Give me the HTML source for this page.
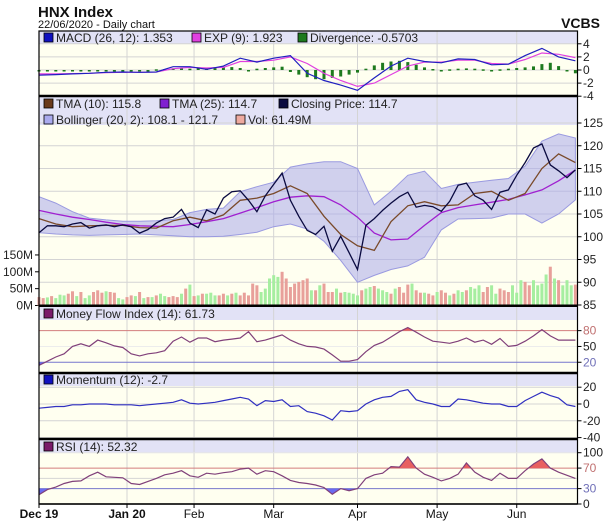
<!DOCTYPE html>
<html><head><meta charset="utf-8"><style>
html,body{margin:0;padding:0;background:#fff;}
svg{display:block;font-family:"Liberation Sans",Arial,sans-serif;}
</style></head><body>
<svg id="chart" width="607" height="527" viewBox="0 0 607 527" xmlns="http://www.w3.org/2000/svg">
<text x="38" y="17" font-size="15" font-weight="bold" fill="#111">HNX Index</text>
<text x="38" y="28" font-size="11" fill="#111">22/06/2020 - Daily chart</text>
<text x="600" y="28" font-size="14" font-weight="bold" fill="#111" text-anchor="end">VCBS</text>
<g id="g"></g>
</svg>
<script>
// ---- data (day index 0..128, sampled) ----
const closeStride = 2;
const closeVals = [100.9,102.4,102.4,102.2,102.8,103.1,101.9,102.4,102.6,102.2,102.6,102.2,100.8,101.6,103.0,104.0,104.3,106.0,103.0,102.0,105.9,105.0,108.5,109.9,110.1,108.0,105.5,109.0,111.5,114.0,108.0,104.5,101.4,100.5,102.3,96.8,100.1,96.5,92.8,102.5,104.0,105.8,107.4,108.8,109.8,106.5,106.9,106.6,105.6,107.8,111.3,111.8,109.0,108.0,106.0,109.8,110.3,113.5,116.3,119.5,120.4,115.8,114.5,113.0,114.7];
const smoothStride = 4;
const tma10Vals = [104.0,102.8,102.2,102.4,102.5,102.5,102.0,101.9,103.5,104.3,103.5,104.8,108.0,108.5,109.5,111.2,109.5,104.5,100.5,98.0,97.0,103.3,106.8,107.7,106.8,107.0,109.5,110.0,108.0,109.5,115.0,118.2,116.3];
const tma25Vals = [105.8,105.0,104.3,103.8,103.2,102.7,102.4,102.3,102.2,102.7,103.3,104.0,105.2,106.4,107.7,108.7,109.0,108.8,107.0,104.3,100.8,99.3,99.5,102.5,105.3,106.4,107.0,107.6,108.2,109.2,110.3,112.3,114.7];
const bollUpper = [108.8,107.4,105.5,104.1,103.7,103.4,103.4,103.5,103.8,105.3,106.0,106.3,109.9,111.0,112.0,115.3,116.0,116.5,116.5,115.0,107.0,110.0,113.5,114.4,110.6,111.5,112.0,112.4,112.8,115.5,121.0,122.6,121.7];
const bollLower = [100.9,100.6,100.4,100.3,100.4,100.5,100.6,100.4,100.2,100.0,100.0,100.1,100.5,101.0,102.2,102.8,101.7,99.0,94.8,90.0,91.5,92.8,93.6,95.5,101.5,103.9,104.0,104.1,105.0,105.0,103.0,105.0,108.1];
const volumeM = [25,22,24,28,22,32,30,35,42,28, 40,22,30,40,45,38,42,40,38,22, 18,25,30,28,40,22,25,25,30,35, 28,25,28,25,35,50,62,28,30,35, 35,38,30,30,35,30,35,38,30,38, 30,65,60,40,50,80,90,85,100,80, 55,65,70,75,80,45,45,60,65,40, 40,50,38,40,38,35,30,45,50,55, 58,50,45,40,35,50,55,38,62,65, 45,38,38,35,30,40,45,38,30,35, 45,40,45,55,50,60,40,55,60,35, 50,45,40,60,38,75,70,60,75,60, 65,92,115,80,75,60,75,60,62];
const volumeDir = "rrgrgggrrgrggrrrgrrggrrgrgrgrggrrrgrgrgrgggrrgrgrrrrrgggggrrrrrrrgrgrrrgrggggrggrgggrgrrrgrrgrrgrrgrggrgggrrggrrrgggrrggggrgrgggrr";
const macdVals = [-0.8,-0.7,-0.6,-0.5,-0.35,-0.3,-0.35,-0.3,0.5,0.5,0.1,0.6,1.8,1.2,1.8,2.2,-0.5,-1.6,-2.3,-3.1,-1.2,0.6,1.8,1.3,1.1,1.7,1.6,0.8,0.9,2.2,3.3,2.0,1.4];
const signalVals = [-0.6,-0.6,-0.55,-0.5,-0.4,-0.35,-0.35,-0.3,0.2,0.4,0.3,0.4,1.3,1.3,1.5,2.0,1.0,-0.5,-1.6,-2.5,-2.0,-0.7,0.6,1.2,1.2,1.5,1.5,1.0,0.9,1.6,2.6,2.4,1.9];
const divStride = 2;
const divVals = [-0.15,-0.12,-0.1,-0.1,-0.1,0,-0.1,-0.1,-0.1,-0.1, -0.1,-0.05,0,-0.1,0.1,0.15,0.25,0.3,0.2,0.3, 0.3,0.4,0.5,0.45,0.3,-0.1,0.2,0.3,0.4,0.5, -0.3,-0.7,-1.1,-1.4,-1.4,-1.2,-1.0,-0.7,-0.4,0.2, 0.7,1.1,1.3,1.4,1.2,0.8,0.4,0.15,0,0.1, 0.2,0.25,0.2,0.1,-0.1,0.1,0.2,0.3,0.4,0.55, 0.9,1.1,0.6,-0.2,-0.5];
const oscStride = 2;
const mfiVals = [14,22,30,36,50,55,50,62,57,51,48,36,32,36,38,42,60,68,58,66,66,59,62,64,66,78,59,62,67,72,62,55,50,49,45,34,22,22,25,40,52,58,68,78,86,77,68,60,58,56,60,66,58,62,54,65,50,52,60,70,82,70,62,62,62];
const momVals = [-5,-4,-3,-3,-1,-1,0,0,0,-1,-1,-1,-2,-1,0,1,2,5,1,0,1,2,4,6,8,6,-2,4,3,5,-3,-2,-9,-11,-14,-19,-8,-9,-8,0,5,8,9,15,17,5,2,0,-3,-3,6,5,3,1,0,0,-3,-3,4,9,14,10,7,-1,-3];
const rsiVals = [18,28,33,40,44,45,55,62,53,52,51,40,38,44,50,57,60,65,55,52,60,58,61,63,68,70,58,65,63,55,46,42,40,37,32,19,30,26,30,50,57,60,73,72,92,70,58,52,45,50,58,80,62,52,46,60,50,50,65,78,88,70,62,56,50];
const monthLabels = ["Dec 19","Jan 20","Feb","Mar","Apr","May","Jun"];
const monthDays = [0,21,37,56,76,95,114];
const priceTicks = [125,120,115,110,105,100,95,90,85];
const volTicks = [150,100,50,0];
const macdTicks = [4,2,0,-2,-4];
const momTicks = [20,0,-20,-40];

// ---- axes ----
const L=39, R=577.5;
const X = d => L + d*(R-L)/128.5;
const yMacd = v => 70 - v*6.55;
const yPrice = v => 123 + (125-v)*4.55;
const yVol = v => 305.5 - v*0.337;
const yMfi = v => 372.8 - v*0.527;
const yMom = v => 404 - v*0.84;
const yRsi = v => 504 - v*0.513;

const NS="http://www.w3.org/2000/svg";
const G=document.getElementById('g');
function el(tag, attrs, parent){const e=document.createElementNS(NS,tag);for(const k in attrs)e.setAttribute(k,attrs[k]);(parent||G).appendChild(e);return e;}
function pts(vals,stride,yf){return vals.map((v,k)=>X(k*stride).toFixed(1)+','+yf(v).toFixed(1)).join(' ');}
function txt(x,y,s,opt){const t=el('text',Object.assign({x:x,y:y,'font-size':11,fill:'#222'},opt||{}));t.textContent=s;return t;}

// panel backgrounds
const panels=[[31,96,44],[97,305.5,125],[306,372.8,320],[374,438,386],[440,504,453]];
const pNames=['macd-panel','price-panel','mfi-panel','momentum-panel','rsi-panel'];
panels.forEach((p,k)=>{
  const bg=el('rect',{x:L,y:p[0],width:R-L,height:p[1]-p[0],fill:'#fffff0'});
  
  
  const hb=el('rect',{x:L,y:p[0],width:R-L,height:p[2]-p[0],fill:'#e2e2f6'});
  
  
});
// vertical month grid
monthDays.forEach((d,k)=>{ if(k>0) panels.forEach(p=>{el('line',{x1:X(d),x2:X(d),y1:p[0],y2:p[1],stroke:'#d4d4d4','stroke-width':1});}); });
// horizontal grids + right tick labels
function hgrid(y,label,col,lineCol,name){
  el('line',{x1:L,x2:R,y1:y,y2:y,stroke:lineCol||'#d4d4d4','stroke-width':1});
  el('line',{x1:R,x2:R+4,y1:y,y2:y,stroke:'#000','stroke-width':1});
  const t=txt(583,y+4,label,{'font-size':12,fill:col||'#222'});
  
  
}
macdTicks.forEach(v=>hgrid(yMacd(v),String(v),null,null,'macd-tick-label'));
priceTicks.forEach(v=>hgrid(yPrice(v),String(v),null,null,'price-tick-label'));
volTicks.forEach(v=>{const y=yVol(v);el('line',{x1:L-4,x2:L,y1:y,y2:y,stroke:'#000'});const t=txt(L-6,y+4,v+'M',{'font-size':12,'text-anchor':'end'});
  
  });
hgrid(yMfi(80),'80','#c07070','#d08080','mfi-tick-label');
hgrid(yMfi(50),'50',null,'#ececec','mfi-tick-label');
hgrid(yMfi(20),'20','#7070b8','#7878c8','mfi-tick-label');
momTicks.forEach(v=>hgrid(yMom(v),String(v),null,null,'momentum-tick-label'));
hgrid(yRsi(100),'100',null,'#e6e6e6','rsi-tick-label');
hgrid(yRsi(70),'70','#c07070','#d08080','rsi-tick-label');
el('line',{x1:L,x2:R,y1:yRsi(50),y2:yRsi(50),stroke:'#d4d4d4'});
hgrid(yRsi(30),'30','#7070b8','#7878c8','rsi-tick-label');
hgrid(yRsi(0),'0',null,'#000','rsi-tick-label');

// volume bars
volumeM.forEach((v,d)=>{
  const b=el('rect',{x:(X(d)-1.5).toFixed(1),y:yVol(v).toFixed(1),width:3,height:(yVol(0)-yVol(v)).toFixed(1),fill:volumeDir[d]==='g'?'#a6eea0':'#e8a09a'});
  
  
});
// bollinger band
const band=el('polygon',{points:pts(bollUpper,smoothStride,yPrice)+' '+bollLower.map((v,k)=>[X(k*smoothStride).toFixed(1),yPrice(v).toFixed(1)].join(',')).reverse().join(' '),fill:'rgba(170,170,235,0.55)',stroke:'#9a9ae0','stroke-width':1});


const t25=el('polyline',{points:pts(tma25Vals,smoothStride,yPrice),fill:'none',stroke:'#a020d0','stroke-width':1.3});


const t10=el('polyline',{points:pts(tma10Vals,smoothStride,yPrice),fill:'none',stroke:'#7a4a2a','stroke-width':1.3});


const cl=el('polyline',{points:pts(closeVals,closeStride,yPrice),fill:'none',stroke:'#0a0a40','stroke-width':1.3});



// MACD
divVals.forEach((v,k)=>{
  const y0=yMacd(0),y1=yMacd(v);
  const b=el('rect',{x:(X(k*divStride)-1.5).toFixed(1),y:Math.min(y0,y1).toFixed(1),width:3,height:Math.max(1.5,Math.abs(y1-y0)).toFixed(1),fill:'#1e7a1e'});
  
  
});
const sg=el('polyline',{points:pts(signalVals,smoothStride,yMacd),fill:'none',stroke:'#e040e0','stroke-width':1.2});


const mc=el('polyline',{points:pts(macdVals,smoothStride,yMacd),fill:'none',stroke:'#2020c0','stroke-width':1.2});



// clip helper for over/under fills
let clipId=0;
function bandFill(vals,stride,yf,level,above,color){
  const id='c'+(clipId++);
  const cp=el('clipPath',{id:id});
  const yl=yf(level);
  el('rect',above?{x:L,y:0,width:R-L,height:yl}:{x:L,y:yl,width:R-L,height:600},cp);
  const p=pts(vals,stride,yf)+' '+X((vals.length-1)*stride).toFixed(1)+','+yl+' '+X(0)+','+yl;
  const f=el('polygon',{points:p,fill:color,'clip-path':'url(#'+id+')'});
  
  
}
bandFill(mfiVals,oscStride,yMfi,80,true,'#e86060');
bandFill(mfiVals,oscStride,yMfi,20,false,'#6a6af0');
const mf=el('polyline',{points:pts(mfiVals,oscStride,yMfi),fill:'none',stroke:'#80407a','stroke-width':1.2});


const mm=el('polyline',{points:pts(momVals,oscStride,yMom),fill:'none',stroke:'#3030c0','stroke-width':1.2});


bandFill(rsiVals,oscStride,yRsi,70,true,'#e86060');
bandFill(rsiVals,oscStride,yRsi,30,false,'#6a6af0');
const rs=el('polyline',{points:pts(rsiVals,oscStride,yRsi),fill:'none',stroke:'#80407a','stroke-width':1.2});



// borders
el('rect',{x:L,y:31,width:R-L,height:473,fill:'none',stroke:'#000','stroke-width':1.2});
[96,305.8,373,439].forEach(y=>el('line',{x1:L,x2:R,y1:y,y2:y,stroke:'#000','stroke-width':2.5}));
el('line',{x1:L,x2:R,y1:504,y2:504,stroke:'#000','stroke-width':1.5});

// x axis labels
monthLabels.forEach((s,k)=>{
  const x=X(monthDays[k]);
  el('line',{x1:x,x2:x,y1:504,y2:508,stroke:'#000'});
  const t=txt(x,518,s,{'font-size':12,'text-anchor':'middle','font-weight':k<2?'bold':'normal',fill:'#111'});
  
  
});

// legends
function legend(x,y,color,label){
  const r=el('rect',{x:x,y:y-9,width:9,height:9,fill:color,stroke:'#000','stroke-width':0.8});
  
  
  const t=txt(x+12,y,label,{'font-size':12,fill:'#222'});
  
  
}
legend(44,42,'#1010c0','MACD (26, 12): 1.353');
legend(192,42,'#e040e0','EXP (9): 1.923');
legend(298,42,'#1e7a1e','Divergence: -0.5703');
legend(44,108,'#6a3a1a','TMA (10): 115.8');
legend(160,108,'#8020d0','TMA (25): 114.7');
legend(279,108,'#0a0a40','Closing Price: 114.7');
legend(44,124,'#aaaaee','Bollinger (20, 2): 108.1 - 121.7');
legend(236,124,'#eeaaa0','Vol: 61.49M');
legend(44,318,'#7a1a6a','Money Flow Index (14): 61.73');
legend(44,384,'#1010c0','Momentum (12): -2.7');
legend(44,451,'#7a1a6a','RSI (14): 52.32');
</script>
</body></html>
